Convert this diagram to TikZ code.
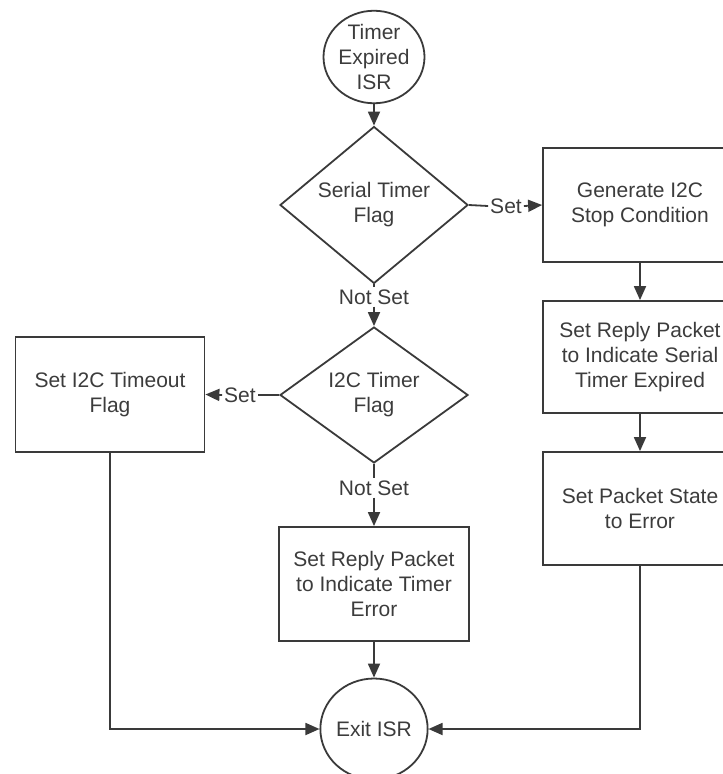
\documentclass[tikz,border=0pt]{standalone}
\usepackage{fontspec}
\setmainfont{Liberation Sans}
\usetikzlibrary{shapes.geometric,arrows.meta}
\definecolor{ink}{HTML}{3A3A3A}
\definecolor{txt}{HTML}{3C3C3C}
\tikzset{
  base/.style={draw=ink, line width=1.8pt, text=txt, align=center, inner sep=0pt,
    font=\fontsize{21}{25}\selectfont},
  procbox/.style={base, rectangle, minimum width=#1, minimum height=113pt},
  procbox/.default=190pt,
  decision/.style={base, diamond, minimum width=188pt, minimum height=112pt},
  terminal/.style={base, ellipse},
  lbl/.style={text=txt, inner sep=2pt, font=\fontsize{21}{25}\selectfont},
  flow/.style={draw=ink, line width=1.8pt, -{Triangle[length=14pt,width=12pt]}},
  plain/.style={draw=ink, line width=1.8pt}
}
\begin{document}
\begin{tikzpicture}[x=1pt,y=-1pt]
  \useasboundingbox (0,0) rectangle (723,774);
  \clip (0,0) rectangle (723,774);

  % terminals
  \node[terminal, minimum width=101pt, minimum height=90pt] (start) at (374,57) {Timer\\Expired\\ISR};
  \node[terminal, minimum width=101pt, minimum height=101pt] (exit) at (374,729) {Exit ISR};

  % decisions
  \node[decision] (serial) at (374,205) {Serial Timer\\Flag};
  \node[decision] (i2c) at (374,395) {I2C Timer\\Flag};

  % branch labels
  \node[lbl] (setA) at (506,206) {Set};
  \node[lbl] (setB) at (240,395) {Set};
  \node[lbl] (nsA) at (374,297) {Not Set};
  \node[lbl] (nsB) at (374,488) {Not Set};

  % process boxes
  \node[procbox=194pt, minimum height=114pt] (stop) at (640,205) {Generate I2C\\Stop Condition};
  \node[procbox=194pt, minimum height=112pt] (replyS) at (640,357) {Set Reply Packet\\to Indicate Serial\\Timer Expired};
  \node[procbox=194pt, minimum height=113pt] (state) at (640,508.5) {Set Packet State\\to Error};
  \node[procbox=189pt, minimum height=115pt] (timeout) at (110,394.5) {Set I2C Timeout\\Flag};
  \node[procbox=190pt, minimum height=114pt] (replyT) at (374,584) {Set Reply Packet\\to Indicate Timer\\Error};

  % connectors
  \draw[flow] (start) -- (serial);
  \draw[plain] (serial.east) -- (setA.west);
  \draw[flow] (setA.east) -- (stop.west);
  \draw[plain] (serial.south) -- (nsA.north);
  \draw[flow] (nsA.south) -- (i2c.north);
  \draw[plain] (i2c.west) -- (setB.east);
  \draw[flow] (setB.west) -- (timeout.east);
  \draw[plain] (i2c.south) -- (nsB.north);
  \draw[flow] (nsB.south) -- (replyT.north);
  \draw[flow] (stop) -- (replyS);
  \draw[flow] (replyS) -- (state);
  \draw[flow] (replyT.south) -- (exit.north);
  \draw[flow] (timeout.south) |- (exit.west);
  \draw[flow] (state.south) |- (exit.east);
\end{tikzpicture}
\end{document}
